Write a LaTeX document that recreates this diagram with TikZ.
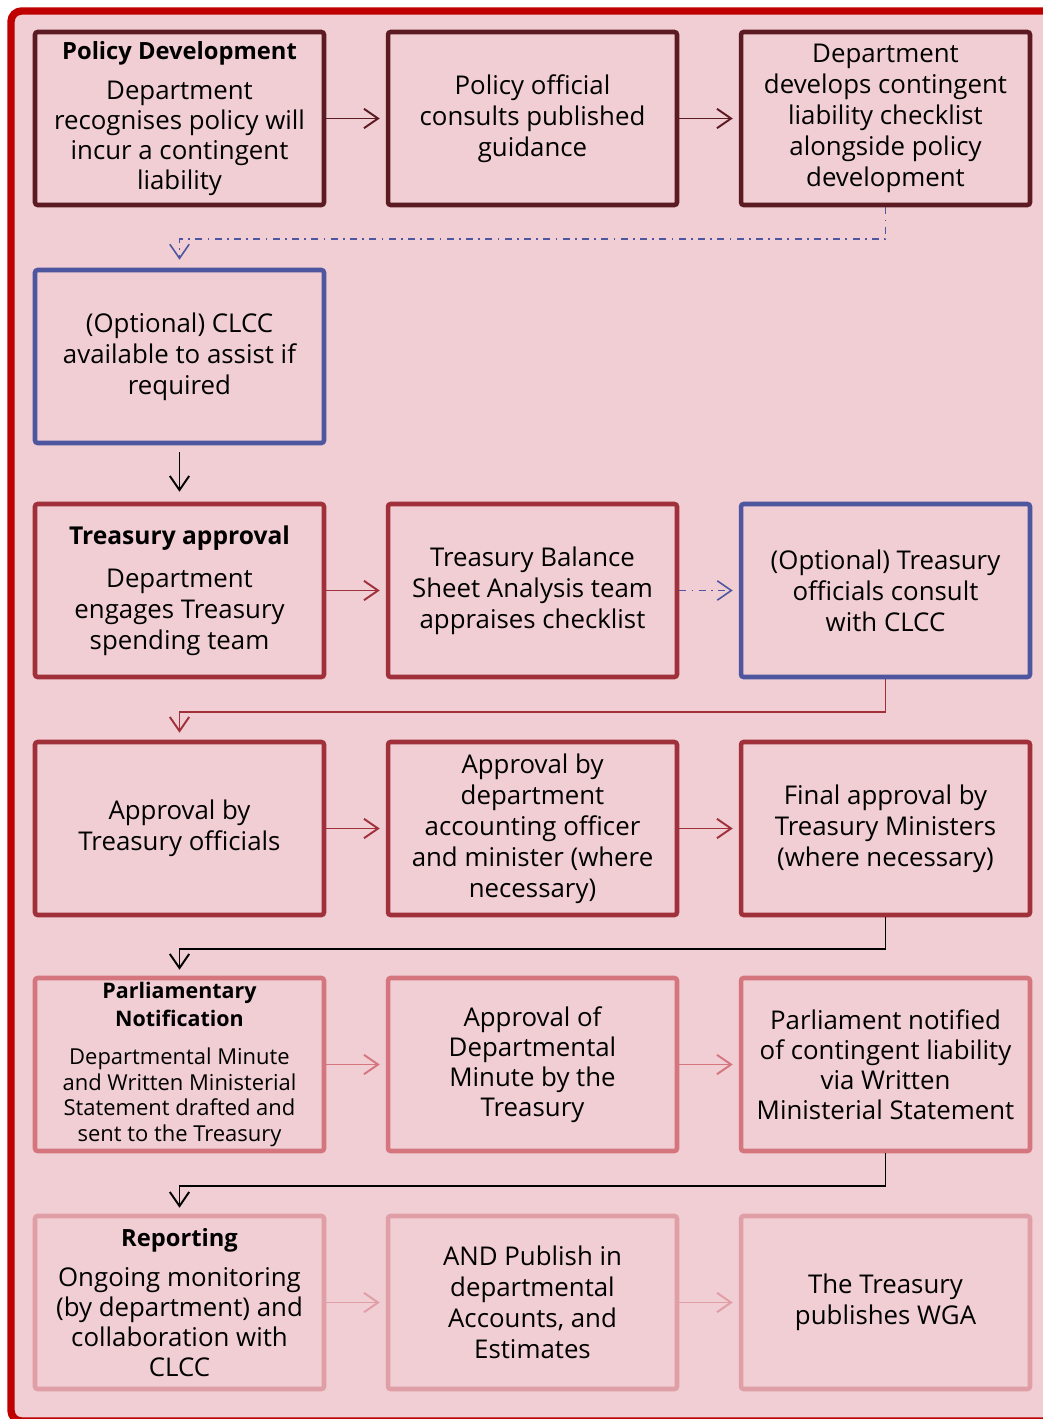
\documentclass[tikz,border=0pt]{standalone}
\usepackage{fontspec}
\setmainfont{Open Sans}
\usetikzlibrary{arrows.meta}
\definecolor{bgpink}{HTML}{F0CED3}
\definecolor{framered}{HTML}{C00000}
\definecolor{devred}{HTML}{5C1A22}
\definecolor{optblue}{HTML}{4E56A0}
\definecolor{apprred}{HTML}{A0303A}
\definecolor{parlred}{HTML}{D5767F}
\definecolor{reppink}{HTML}{E09EA6}
\tikzset{
  box/.style={draw, line width=2.6pt, rounded corners=1.5pt, minimum width=5.78cm, minimum height=3.46cm,
    align=center, inner sep=0pt, font=\fontsize{14.7}{17.6}\selectfont},
  link/.style={line width=1.1pt, -{Straight Barb[length=8pt,width=11pt]}},
  optlink/.style={link, line width=0.9pt, dash pattern=on 4pt off 3pt on 1pt off 3pt},
}
\newcommand{\hd}[1]{{\fontsize{13.5}{17.6}\selectfont\bfseries #1}}
\newcommand{\hdl}[1]{{\fontsize{14}{17.6}\selectfont\bfseries #1}}
\newcommand{\hds}[1]{{\fontsize{12.2}{17.6}\selectfont\bfseries #1}}
\newcommand{\sm}[1]{{\fontsize{12.5}{14.7}\selectfont #1}}
\begin{document}
\begin{tikzpicture}[x=0.02cm,y=-0.02cm]
\useasboundingbox (0,0) rectangle (1043,1419);
\fill[white] (0,0) rectangle (1043,1419);
\filldraw[fill=bgpink, draw=framered, line width=4.2pt, rounded corners=6pt] (11,11) rectangle (1070,1421);

\node[box, draw=devred] (pd) at (179.5,118.5) {\hd{Policy Development}\\[5.6pt]Department\\[-0.6pt]recognises policy will\\[-0.6pt]incur a contingent\\[-0.6pt]liability};
\node[box, draw=devred] (consult) at (532.5,118.5) {Policy official\\consults published\\guidance};
\node[box, draw=devred] (checklist) at (885.5,118.5) {Department\\develops contingent\\liability checklist\\alongside policy\\development};

\node[box, draw=optblue] (clcc) at (179.5,356.5) {(Optional) CLCC\\available to assist if\\required};

\node[box, draw=apprred] (tapp) at (179.5,590.5) {\hdl{Treasury approval}\\[6.8pt]Department\\engages Treasury\\spending team};
\node[box, draw=apprred] (bsa) at (532.5,590.5) {Treasury Balance\\Sheet Analysis team\\appraises checklist};
\node[box, draw=optblue] (tclcc) at (885.5,590.5) {(Optional) Treasury\\officials consult\\with CLCC};

\node[box, draw=apprred] (offapp) at (179.5,828.5) {Approval by\\Treasury officials};
\node[box, draw=apprred] (accapp) at (532.5,828.5) {Approval by\\department\\accounting officer\\and minister (where\\necessary)};
\node[box, draw=apprred] (minapp) at (885.5,828.5) {Final approval by\\Treasury Ministers\\(where necessary)};

\node[box, draw=parlred] (parl) at (179.5,1064.5) {\hds{Parliamentary}\\[-1.7pt]\hds{Notification}\\[4pt]\sm{Departmental Minute}\\[-2.9pt]\sm{and Written Ministerial}\\[-2.9pt]\sm{Statement drafted and}\\[-2.9pt]\sm{sent to the Treasury}};
\node[box, draw=parlred] (dmin) at (532.5,1064.5) {Approval of\\[-0.6pt]Departmental\\[-0.6pt]Minute by the\\[-0.6pt]Treasury};
\node[box, draw=parlred] (wms) at (885.5,1064.5) {Parliament notified\\[-0.6pt]of contingent liability\\[-0.6pt]via Written\\[-0.6pt]Ministerial Statement};

\node[box, draw=reppink] (rep) at (179.5,1302.5) {\hd{Reporting}\\[5.6pt]Ongoing monitoring\\[-0.6pt](by department) and\\[-0.6pt]collaboration with\\[-0.6pt]CLCC};
\node[box, draw=reppink] (publish) at (532.5,1302.5) {AND Publish in\\departmental\\Accounts, and\\Estimates};
\node[box, draw=reppink] (wga) at (885.5,1302.5) {The Treasury\\publishes WGA};

\draw[link, devred, shorten >=0.12cm] (pd.east) -- (consult.west);
\draw[link, devred, shorten >=0.12cm] (consult.east) -- (checklist.west);
\draw[optlink, optblue, shorten >=0.16cm] (checklist.south) -- ++(0,32) -| (clcc.north);

\draw[link, black, shorten <=0.14cm, shorten >=0.2cm] (clcc) -- (tapp);

\draw[link, apprred, shorten >=0.12cm] (tapp.east) -- (bsa.west);
\draw[optlink, optblue, shorten >=0.12cm] (bsa.east) -- (tclcc.west);
\draw[link, apprred, shorten >=0.14cm] (tclcc.south) -- ++(0,33) -| (offapp.north);

\draw[link, apprred, shorten >=0.12cm] (offapp.east) -- (accapp.west);
\draw[link, apprred, shorten >=0.12cm] (accapp.east) -- (minapp.west);
\draw[link, black, shorten >=0.12cm] (minapp.south) -- ++(0,32) -| (parl.north);

\draw[link, parlred, shorten >=0.12cm] (parl.east) -- (dmin.west);
\draw[link, parlred, shorten >=0.12cm] (dmin.east) -- (wms.west);
\draw[link, black, shorten >=0.12cm] (wms.south) -- ++(0,33) -| (rep.north);

\draw[link, reppink, shorten >=0.12cm] (rep.east) -- (publish.west);
\draw[link, reppink, shorten >=0.12cm] (publish.east) -- (wga.west);
\end{tikzpicture}
\end{document}
